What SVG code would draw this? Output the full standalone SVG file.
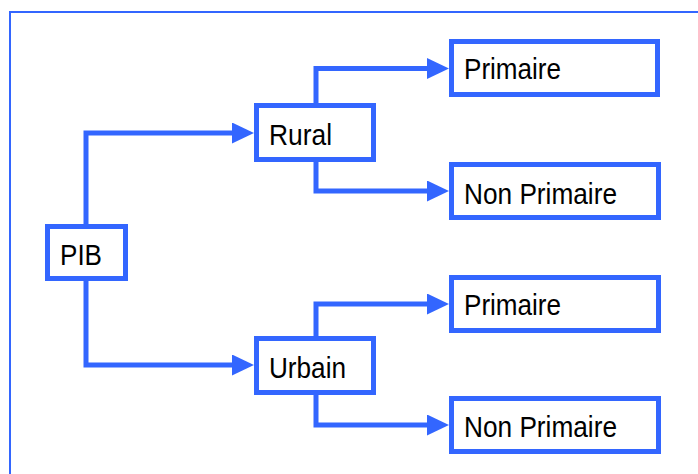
<svg xmlns="http://www.w3.org/2000/svg" width="698" height="474" viewBox="0 0 698 474">
<defs>
<style>
.box{fill:#fff;stroke:#3366FF;stroke-width:5}
.lbl{font-family:"Liberation Sans",Arial,sans-serif;font-size:29px;fill:#000}
.conn{fill:none;stroke:#3366FF;stroke-width:5;stroke-linejoin:miter}
</style>
<marker id="arr" markerUnits="userSpaceOnUse" markerWidth="22" markerHeight="22" refX="12" refY="10.5" orient="auto">
<path d="M0,0 L22,10.5 L0,21 Z" fill="#3366FF"/>
</marker>
</defs>
<rect x="0" y="0" width="698" height="474" fill="#fff"/>
<rect x="10" y="12" width="700" height="470" fill="none" stroke="#3366FF" stroke-width="2"/>
<g id="connectors">
<path class="conn" d="M86,224 V133 H244" marker-end="url(#arr)"/>
<path class="conn" d="M86,281 V365 H244" marker-end="url(#arr)"/>
<path class="conn" d="M316,103 V68.5 H439" marker-end="url(#arr)"/>
<path class="conn" d="M316,162 V191 H439" marker-end="url(#arr)"/>
<path class="conn" d="M316,336 V304 H439" marker-end="url(#arr)"/>
<path class="conn" d="M316,394 V425 H439" marker-end="url(#arr)"/>
</g>
<g id="pib">
<rect class="box" x="47.5" y="226.5" width="78" height="52"/>
<text class="lbl" x="60" y="265" textLength="42" lengthAdjust="spacingAndGlyphs">PIB</text>
</g>
<g id="rural">
<rect class="box" x="256.5" y="105.5" width="117" height="54"/>
<text class="lbl" x="269" y="145" textLength="63" lengthAdjust="spacingAndGlyphs">Rural</text>
</g>
<g id="urbain">
<rect class="box" x="256.5" y="338.5" width="117" height="54"/>
<text class="lbl" x="269" y="378" textLength="77" lengthAdjust="spacingAndGlyphs">Urbain</text>
</g>
<g id="rural-primaire">
<rect class="box" x="451.5" y="41.5" width="206" height="53"/>
<text class="lbl" x="464" y="79" textLength="97" lengthAdjust="spacingAndGlyphs">Primaire</text>
</g>
<g id="rural-nonprimaire">
<rect class="box" x="451.5" y="164.5" width="207" height="53"/>
<text class="lbl" x="464" y="204" textLength="153" lengthAdjust="spacingAndGlyphs">Non Primaire</text>
</g>
<g id="urbain-primaire">
<rect class="box" x="451.5" y="277.5" width="207" height="53"/>
<text class="lbl" x="464" y="315" textLength="97" lengthAdjust="spacingAndGlyphs">Primaire</text>
</g>
<g id="urbain-nonprimaire">
<rect class="box" x="451.5" y="398.5" width="207" height="53"/>
<text class="lbl" x="464" y="437" textLength="153" lengthAdjust="spacingAndGlyphs">Non Primaire</text>
</g>
</svg>
